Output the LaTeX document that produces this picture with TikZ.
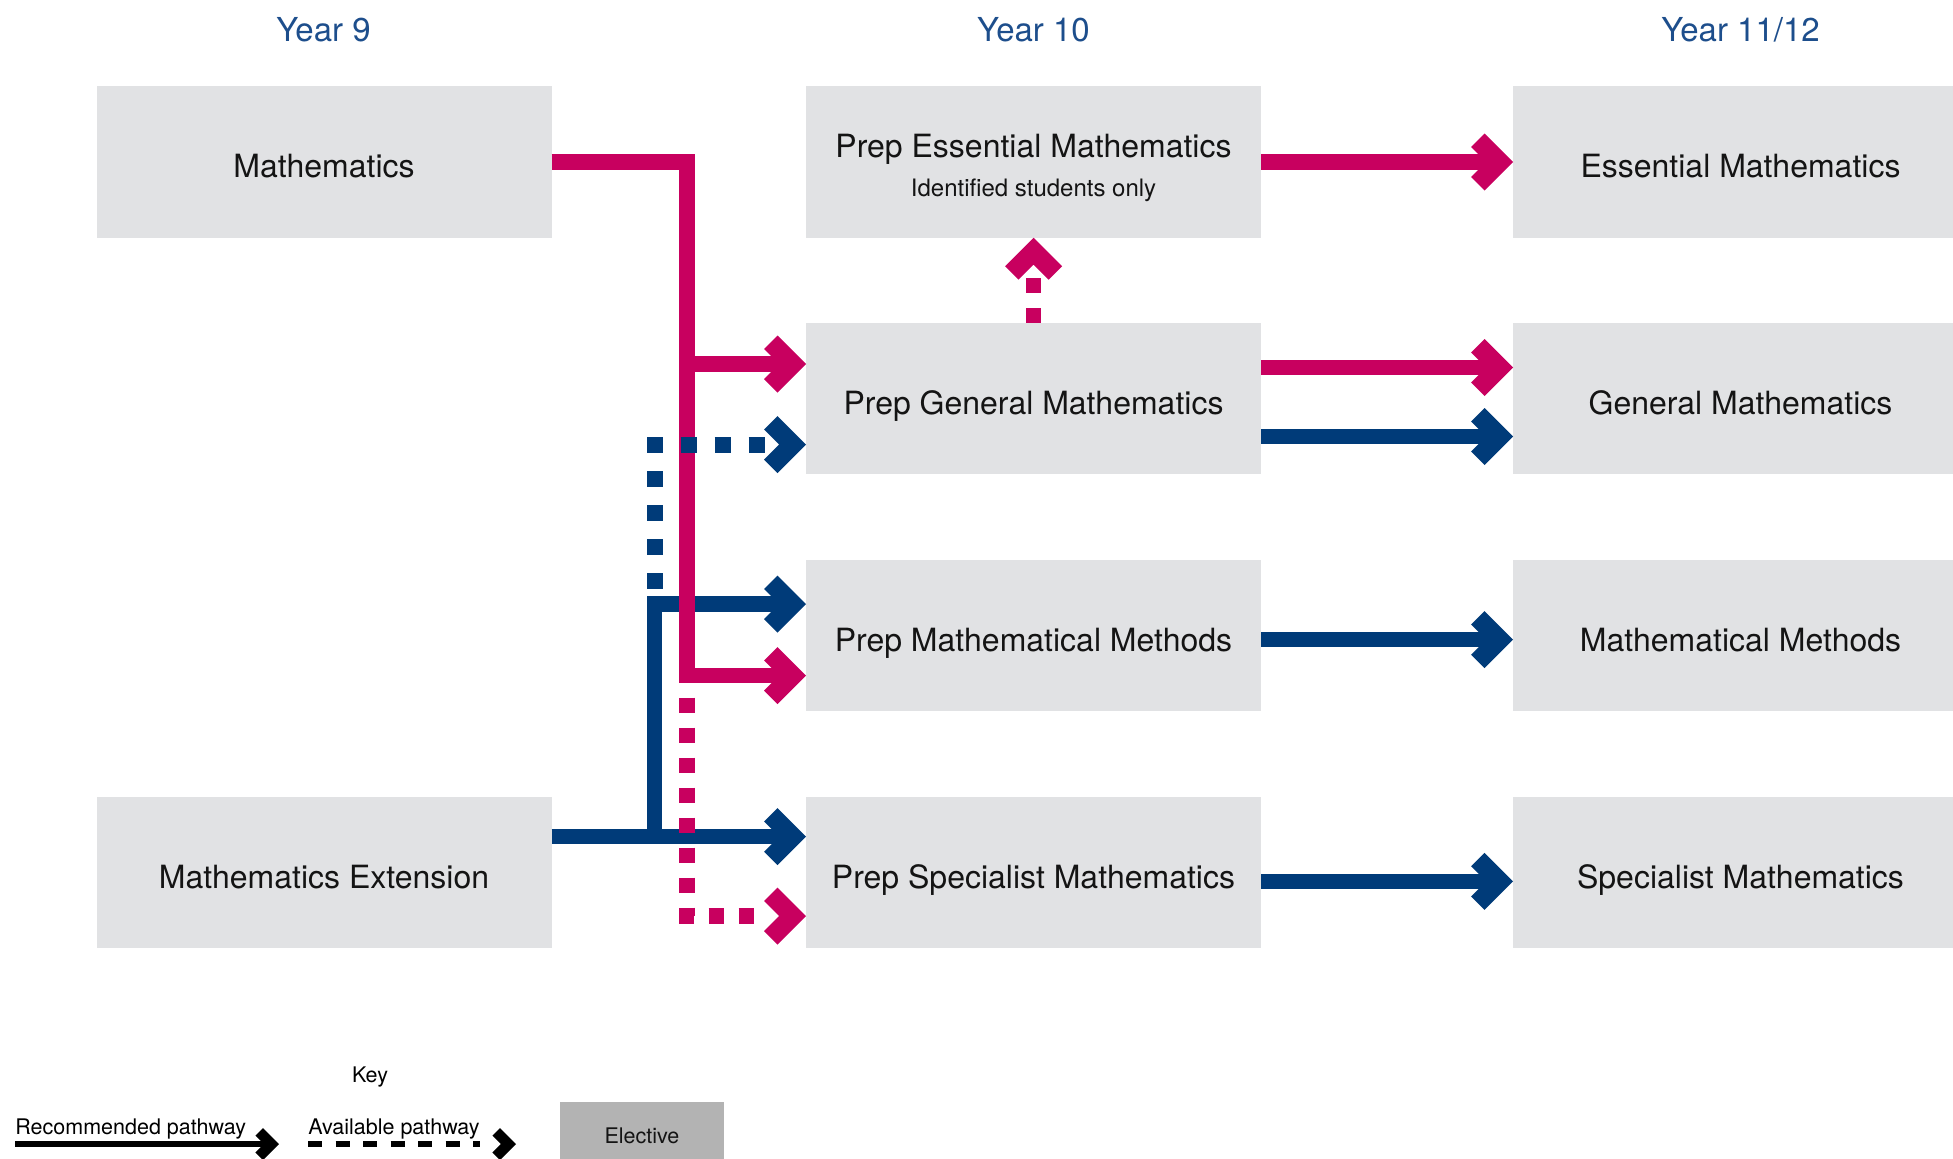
\documentclass[tikz,border=0pt]{standalone}
\usepackage{fontspec}
\setmainfont{TeX Gyre Heros}
\usetikzlibrary{arrows.meta}

\definecolor{pathpink}{RGB}{200,0,95}
\definecolor{pathblue}{RGB}{0,59,121}
\definecolor{yearblue}{RGB}{29,78,140}
\definecolor{boxgrey}{RGB}{225,226,228}
\definecolor{electivegrey}{RGB}{179,179,179}
\definecolor{textblack}{RGB}{20,20,20}

% Filled chevron head; "width" is the outer height of the head,
% "length" is how far behind the tip the line stops.
\pgfdeclarearrow{
  name = Chevron,
  defaults = {length = 6.7pt, width = 28.5pt},
  parameters = {\the\pgfarrowlength,\the\pgfarrowwidth},
  setup code = {
    \pgfarrowssettipend{0pt}
    \pgfarrowssetlineend{-\pgfarrowlength}
    \pgfarrowssetbackend{-0.735\pgfarrowwidth}
    \pgfarrowssavethe\pgfarrowlength
    \pgfarrowssavethe\pgfarrowwidth
  },
  drawing code = {
    \pgfpathmoveto{\pgfpointorigin}
    \pgfpathlineto{\pgfqpoint{-0.5\pgfarrowwidth}{0.5\pgfarrowwidth}}
    \pgfpathlineto{\pgfqpoint{-0.735\pgfarrowwidth}{0.265\pgfarrowwidth}}
    \pgfpathlineto{\pgfqpoint{-0.47\pgfarrowwidth}{0pt}}
    \pgfpathlineto{\pgfqpoint{-0.735\pgfarrowwidth}{-0.265\pgfarrowwidth}}
    \pgfpathlineto{\pgfqpoint{-0.5\pgfarrowwidth}{-0.5\pgfarrowwidth}}
    \pgfpathclose
    \pgfusepathqfill
  }
}

\begin{document}
\begin{tikzpicture}[x=0.5pt, y=-0.5pt,
  course/.style={fill=boxgrey, draw=none, inner sep=0pt, outer sep=0pt,
    minimum width=227.5pt, minimum height=75.75pt, text=textblack,
    font=\fontsize{16}{19}\selectfont, text height=15.5pt, text depth=0pt},
  coursetitle/.style={anchor=base, inner sep=0pt, text=textblack,
    font=\fontsize{16}{19}\selectfont},
  coursenote/.style={anchor=base, inner sep=0pt, text=textblack,
    font=\fontsize{12}{14}\selectfont},
  year/.style={anchor=base, inner sep=0pt, text=yearblue,
    font=\fontsize{16.5}{20}\selectfont},
  keytext/.style={inner sep=0pt, text=black,
    font=\fontsize{10.75}{13}\selectfont},
  elective/.style={fill=electivegrey, draw=none, inner sep=0pt,
    minimum width=82pt, minimum height=34pt, text=textblack,
    font=\fontsize{10.75}{13}\selectfont},
  pinkpath/.style={color=pathpink, line width=7.75pt, -{Chevron}},
  bluepath/.style={color=pathblue, line width=7.75pt, -{Chevron}},
  bluedotted/.style={color=pathblue, line width=8pt,
    dash pattern=on 8pt off 9pt, dash phase=9.25pt, -{Chevron[length=20pt]}},
  pinkdotted/.style={color=pathpink, line width=7.75pt,
    dash pattern=on 7.75pt off 7.25pt, dash phase=3.9pt, -{Chevron[length=20pt]}},
  pinkupdotted/.style={color=pathpink, line width=7.75pt,
    dash pattern=on 7.5pt off 7.5pt, -{Chevron[length=20pt]}},
  keysolid/.style={color=black, line width=3.25pt, -{Chevron[length=3.5pt, width=16pt]}},
  keydashed/.style={color=black, line width=3.25pt,
    dash pattern=on 7pt off 6.75pt, -{Chevron[length=18pt, width=16pt]}}
]
\useasboundingbox[fill=white] (0,0) rectangle (1953,1158);

% Year headings
\node[year] (y9)  at (323.5,41)  {Year 9};
\node[year] (y10) at (1033.5,41) {Year 10};
\node[year] (y11) at (1740.5,41) {Year 11/12};

% Year 9 courses
\node[course] (m9)  at (324,162)   {Mathematics};
\node[course] (ext) at (324,872.5) {Mathematics Extension};

% Year 10 courses
\node[course] (pe) at (1033.5,162)   {};
\node[coursetitle] (pe-title) at (1033.5,157) {Prep Essential Mathematics};
\node[coursenote]  (pe-note)  at (1033.5,196) {Identified students only};
\node[course] (pg) at (1033.5,398.5) {Prep General Mathematics};
\node[course] (pm) at (1033.5,635.5) {Prep Mathematical Methods};
\node[course] (ps) at (1033.5,872.5) {Prep Specialist Mathematics};

% Year 11/12 courses
\node[course] (em) at (1740.5,162)   {Essential Mathematics};
\node[course] (gm) at (1740.5,398.5) {General Mathematics};
\node[course] (mm) at (1740.5,635.5) {Mathematical Methods};
\node[course] (sm) at (1740.5,872.5) {Specialist Mathematics};

% Junctions of the branching pathways
\coordinate (pk) at (687,675.5);
\coordinate (bk) at (654.5,604);

% Recommended pathways from Mathematics Extension
\draw[bluepath] (ext.east |- 0,836.7) -- (ps.west |- 0,836.7);
\draw[bluepath] (bk |- 0,836.7) -- (bk) -- (pm.west |- bk);

% Recommended pathways from Mathematics
\draw[pinkpath] (m9.east) -| (pk) -- (pm.west |- pk);
\draw[pinkpath] (pk |- 0,364) -- (pg.west |- 0,364);

% Available pathways
\draw[bluedotted] (bk) |- (pg.west |- 0,444.5);
\draw[pinkdotted] (pk) |- (ps.west |- 0,916);
\draw[pinkupdotted] (pg.north) -- (pe.south);

% Year 10 to Year 11/12
\draw[pinkpath] (pe.east) -- (em.west);
\draw[pinkpath] (pg.east |- 0,367.5) -- (gm.west |- 0,367.5);
\draw[bluepath] (pg.east |- 0,436.5) -- (gm.west |- 0,436.5);
\draw[bluepath] (pm.east |- 0,639.7) -- (mm.west |- 0,639.7);
\draw[bluepath] (ps.east |- 0,881.3) -- (sm.west |- 0,881.3);

% Key
\node[keytext, anchor=base] (key) at (370,1082.5) {Key};
\node[keytext, anchor=base west] (rec) at (15,1134) {Recommended pathway};
\coordinate (rec-a) at (15,1144);
\coordinate (rec-b) at (279,1144);
\draw[keysolid] (rec-a) -- (rec-b);
\node[keytext, anchor=base west] (avl) at (308,1134) {Available pathway};
\coordinate (avl-a) at (308,1144);
\coordinate (avl-b) at (516,1144);
\draw[keydashed] (avl-a) -- (avl-b);
\node[elective] (elec) at (642,1136) {Elective};
\end{tikzpicture}
\end{document}
